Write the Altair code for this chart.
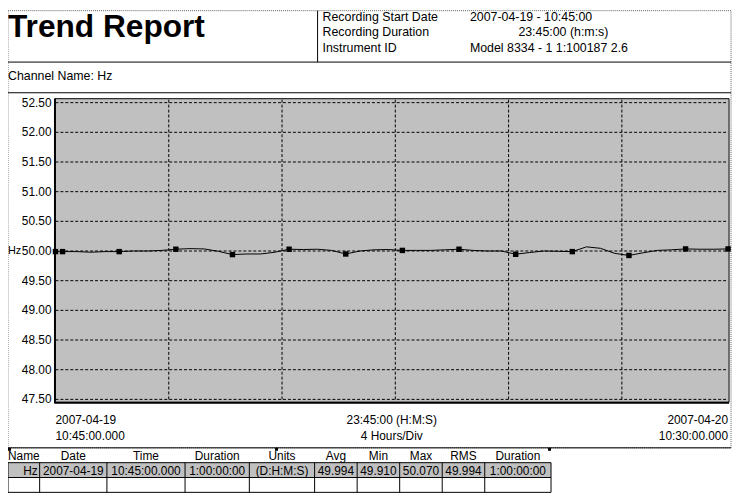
import altair as alt
import pandas as pd

# ---------------- data ----------------
start_clock = "10:45"
clock_times = ["10:45", "11:00", "11:30", "12:00", "12:30", "13:00", "13:30", "14:00",
               "14:30", "15:00", "15:30", "16:00", "16:30", "17:00", "17:30", "18:00",
               "18:30", "19:00", "19:30", "20:00", "20:30", "21:00", "21:30", "22:00",
               "22:30", "23:00", "23:30", "00:00", "00:30", "01:00", "01:30", "02:00",
               "02:30", "03:00", "03:30", "04:00", "04:30", "05:00", "05:30", "06:00",
               "06:30", "07:00", "07:30", "08:00", "08:30", "09:00", "09:30", "10:00",
               "10:30"]
hz_values = [49.99, 49.99, 49.99, 49.98, 49.99, 49.99, 50.00, 50.00,
             50.01, 50.03, 50.04, 50.035, 49.995, 49.94, 49.95, 49.95,
             49.98, 50.03, 50.025, 50.03, 50.01, 49.95, 50.00, 50.02,
             50.025, 50.01, 50.01, 50.01, 50.02, 50.03, 50.01, 50.00,
             50.00, 49.945, 49.975, 50.00, 49.995, 49.99, 50.07, 50.045,
             49.96, 49.925, 49.97, 50.01, 50.02, 50.035, 50.03, 50.03,
             50.035]
marker_times = ["10:45", "11:00", "13:00", "15:00", "17:00", "19:00", "21:00",
                "23:00", "01:00", "03:00", "05:00", "07:00", "09:00", "10:30"]
y_ticks = [47.5, 48.0, 48.5, 49.0, 49.5, 50.0, 50.5, 51.0, 51.5, 52.0, 52.5]
grid_hours = [4, 8, 12, 16, 20]
total_hours = 23.75

header_labels = ["Recording Start Date", "Recording Duration", "Instrument ID"]
header_values = ["2007-04-19 - 10:45:00", "23:45:00 (h:m:s)", "Model 8334 - 1 1:100187 2.6"]

table_header = ["Name", "Date", "Time", "Duration", "Units", "Avg", "Min", "Max", "RMS", "Duration"]
table_row = ["Hz", "2007-04-19", "10:45:00.000", "1:00:00:00", "(D:H:M:S)",
             "49.994", "49.910", "50.070", "49.994", "1:00:00:00"]

# ---------------- helpers ----------------
FONT = "Liberation Sans"
OFF = 8  # page margin


def to_hours(c):
    h, m = map(int, c.split(":"))
    s_h, s_m = map(int, start_clock.split(":"))
    d = (h * 60 + m - (s_h * 60 + s_m)) / 60.0
    return d + 24 if d < 0 else d


df = pd.DataFrame({"h": [to_hours(c) for c in clock_times], "v": hz_values,
                   "t": clock_times})
df_m = df[df["t"].isin(marker_times)]
df_y = pd.DataFrame({"v": y_ticks})
df_g = pd.DataFrame({"h": grid_hours})

one = alt.Data(values=[{"a": 1}])

xs = alt.Scale(domain=[0, total_hours], range=[56 - OFF, 736 - OFF], nice=False, zero=False)
ys = alt.Scale(domain=[47.5, 52.5], range=[401 - OFF, 101 - OFF], nice=False, zero=False)
X = alt.X("h:Q", scale=xs, axis=None)
Y = alt.Y("v:Q", scale=ys, axis=None)


def P(v):
    return max(v - OFF, 0)


def txt(s, x, y, size=12, align="left", weight="normal"):
    return alt.Chart(one).mark_text(text=s, align=align, baseline="alphabetic",
                                    fontSize=size, fontWeight=weight, font=FONT,
                                    color="black").encode(x=alt.value(P(x)), y=alt.value(P(y)))


def hline(x1, x2, y, color="black", w=1, dash=None):
    kw = dict(color=color, strokeWidth=w)
    if dash:
        kw["strokeDash"] = dash
    return alt.Chart(one).mark_rule(**kw).encode(
        x=alt.value(P(x1)), x2=alt.value(P(x2)), y=alt.value(P(y)))


def vline(x, y1, y2, color="black", w=1, dash=None):
    kw = dict(color=color, strokeWidth=w)
    if dash:
        kw["strokeDash"] = dash
    return alt.Chart(one).mark_rule(**kw).encode(
        x=alt.value(P(x)), y=alt.value(P(y1)), y2=alt.value(P(y2)))


def box(x1, x2, y1, y2, fill, stroke=None, w=1, dash=None):
    kw = dict(fill=fill)
    if stroke:
        kw.update(stroke=stroke, strokeWidth=w)
        if dash:
            kw["strokeDash"] = dash
    return alt.Chart(one).mark_rect(**kw).encode(
        x=alt.value(P(x1)), x2=alt.value(P(x2)), y=alt.value(P(y1)), y2=alt.value(P(y2)))


layers = []
# outer dotted frame + section lines
layers.append(box(0, 739, 0, 450, "white", "#606060", 1, [1, 1]))
layers.append(hline(0, 739, 60))
layers.append(vline(321, 0, 60))
layers.append(hline(0, 739, 91))
layers.append(hline(0, 739, 450))

# header texts
layers.append(txt("Trend Report", 6, 35, size=32, weight="bold"))
for i, (lab, val) in enumerate(zip(header_labels, header_values)):
    yb = 18 + i * 16
    layers.append(txt(lab, 326, yb, size=12.5))
    layers.append(txt(val, 524 if i == 1 else 475, yb, size=12.5))
layers.append(txt("Channel Name: Hz", 6, 78, size=12.5))

# plot background
layers.append(box(55, 737, 97, 404, "#C0C0C0", "black", 1))
layers.append(vline(55.5, 97, 405, w=2))
layers.append(hline(55, 737, 404.5, w=2))

# gridlines
layers.append(alt.Chart(df_y).mark_rule(color="black", strokeWidth=1, strokeDash=[3, 2]).encode(
    y=Y, x=alt.value(P(56)), x2=alt.value(P(736))))
layers.append(alt.Chart(df_g).mark_rule(color="black", strokeWidth=1, strokeDash=[3, 2]).encode(
    x=X, y=alt.value(P(98)), y2=alt.value(P(403))))

# series
layers.append(alt.Chart(df).mark_line(color="black", strokeWidth=1).encode(x=X, y=Y))
layers.append(alt.Chart(df_m).mark_point(shape="square", filled=True, color="black",
                                         size=30, opacity=1).encode(x=X, y=Y))

# y labels
layers.append(alt.Chart(df_y).mark_text(align="right", baseline="middle", fontSize=12,
                                        font=FONT, color="black").encode(
    x=alt.value(P(52)), y=Y, text=alt.Text("v:Q", format=".2f")))
layers.append(alt.Chart(pd.DataFrame({"v": [50.0]})).mark_text(
    text="Hz", align="left", baseline="middle", fontSize=11, font=FONT, color="black").encode(
    x=alt.value(0), y=Y))

# x labels
x_lab = [
    (0, "left", "2007-04-19", "10:45:00.000"),
    (total_hours / 2, "center", "23:45:00 (H:M:S)", "4 Hours/Div"),
    (total_hours, "right", "2007-04-20", "10:30:00.000"),
]
for h, al, l1, l2 in x_lab:
    for yb, s in ((426, l1), (442, l2)):
        layers.append(alt.Chart(pd.DataFrame({"h": [h], "s": [s]})).mark_text(
            align=al, baseline="alphabetic", fontSize=12, font=FONT, color="black").encode(
            x=X, y=alt.value(P(yb)), text="s:N"))

# table
col_edges = [0, 40, 108, 187, 252, 318, 361, 404, 447, 490, 557]
layers.append(box(0, 557, 465, 480, "#C0C0C0"))
layers.append(hline(0, 557, 465))
layers.append(hline(0, 557, 480))
layers.append(hline(0, 557, 495))
for e in col_edges:
    layers.append(vline(e + 0.5 if e == 0 else e, 465, 495))
for mx in (8, 278, 554):
    layers.append(box(mx, mx + 3, 450, 453, "black"))
for i, (hd, val) in enumerate(zip(table_header, table_row)):
    cx = (col_edges[i] + col_edges[i + 1]) / 2
    if i == 0:
        layers.append(txt(hd, 8, 462, size=12, align="left"))
        layers.append(txt(val, col_edges[1] - 2, 477, size=12, align="right"))
    else:
        layers.append(txt(hd, cx, 462, size=12, align="center"))
        layers.append(txt(val, cx, 477, size=12, align="center"))

chart = alt.layer(*layers).properties(
    width=742 - OFF, height=496 - OFF, padding=0,
    autosize=alt.AutoSizeParams(type="none"), background="white"
).configure_view(stroke=None)

chart.save("out.html", embed_options={"renderer": "svg", "actions": False})
